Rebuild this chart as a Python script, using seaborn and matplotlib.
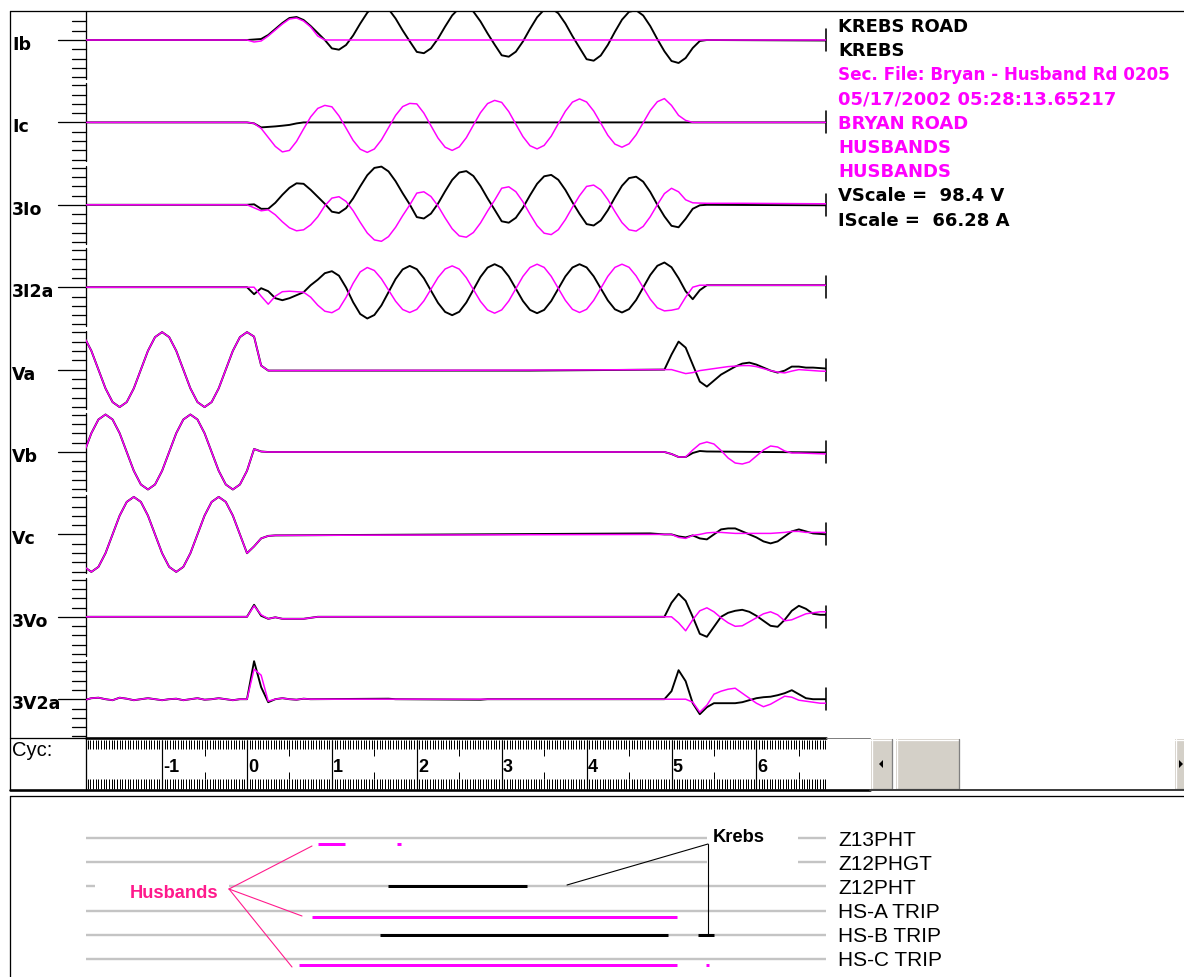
import matplotlib
matplotlib.use("Agg")
import numpy as np
import pandas as pd
import matplotlib.pyplot as plt
import seaborn as sns
from matplotlib.patches import Rectangle, Polygon

sns.set_theme(style="white")
plt.rcParams["font.family"] = ["DejaVu Sans"]

W, H = 1184, 977
SPC = 12  # samples per power-system cycle

# ---------------------------------------------------------------------------
# Analog records.  Each record is a list of (first sample index, [samples]);
# sample index / SPC gives the time in cycles relative to the fault.
# Samples are deflections in display units (positive = up).
# ---------------------------------------------------------------------------
CHANNELS = ["Ib", "Ic", "3Io", "3I2a", "Va", "Vb", "Vc", "3Vo", "3V2a"]

IB_KREBS = [(-23, [0]),
            (0, [0, 0.5, 1, 5, 11, 17, 22, 23, 20, 14, 7, 0,
                 -8.4, -9.7, -5.0, 4.5, 16.4, 27.3, 34.4, 35.7, 31.0, 21.5, 9.6, -1.3,
                 -11.9, -13.2, -8.4, 1.4, 13.4, 24.6, 31.9, 33.2, 28.4, 18.6, 6.6, -4.6,
                 -15.3, -16.7, -11.7, -1.5, 11.1, 22.7, 30.3, 31.7, 26.7, 16.5, 3.9, -7.7,
                 -19.2, -20.7, -15.5, -4.9, 8.2, 20.3, 28.2, 29.7, 24.5, 13.9, 0.8, -11.3,
                 -21, -23, -18, -8, -1, 0]),
            (82, [-0.5])]
IB_HUSB = [(-23, [0]),
           (0, [0, -2, -1, 4, 10, 16, 21, 22, 19, 13, 4, 0]),
           (82, [0])]

IC_KREBS = [(-23, [0]), (0, [0, -1, -5, -4.5, -4, -3.3, -2.5, -1, 0]), (82, [0])]
IC_HUSB = [(-23, [0]),
           (0, [0, -1, -6, -15, -24, -29.5, -28, -19, -6.5, 5.5, 14, 17,
                15.6, 6.5, -5.7, -18.0, -26.8, -30.0, -26.6, -17.5, -5.3, 7.0, 15.8, 19.0,
                18.5, 9.3, -3.3, -15.7, -24.8, -28.0, -24.5, -15.3, -2.7, 9.7, 18.8, 22.0,
                20.0, 10.8, -1.8, -14.2, -23.3, -26.5, -23.0, -13.8, -1.2, 11.2, 20.3, 23.5,
                20.4, 11.4, -0.7, -12.9, -21.7, -24.8, -21.4, -12.4, -0.3, 11.9, 20.7, 23.8,
                17, 7, 2, 0]),
           (82, [0])]

I0_KREBS = [(-23, [0]),
            (0, [0, 0.5, -4, -4, 2, 10, 17, 21.5, 21, 15, 8, 1,
                 -6.9, -8.2, -3.4, 6.4, 18.4, 29.6, 36.9, 38.2, 33.4, 23.6, 11.6, 0.4,
                 -12.3, -13.7, -8.8, 1.2, 13.5, 24.9, 32.3, 33.7, 28.8, 18.8, 6.5, -4.9,
                 -16.5, -17.9, -13.0, -2.9, 9.5, 21.0, 28.5, 29.9, 25.0, 14.9, 2.5, -9.0,
                 -19.3, -20.7, -15.7, -5.4, 7.3, 19.0, 26.7, 28.1, 23.1, 12.8, 0.1, -11.6,
                 -21, -22.5, -14, -4, -0.5, 0]),
            (82, [-0.5])]
I0_HUSB = [(-23, [0]),
           (0, [0, -3, -6, -5, -10, -17, -23, -26, -25, -20, -12, -1,
                6.7, 8.1, 3.4, -5.9, -17.5, -28.2, -35.1, -36.5, -31.8, -22.5, -10.9, -0.2,
                11.7, 13.0, 8.3, -1.2, -13.1, -24.0, -31.1, -32.4, -27.7, -18.2, -6.3, 4.6,
                16.6, 18.0, 13.1, 3.0, -9.4, -20.9, -28.4, -29.8, -24.9, -14.8, -2.4, 9.1,
                18.4, 19.7, 15.0, 5.3, -6.7, -17.8, -25.0, -26.3, -21.6, -11.9, 0.1, 11.2,
                16.5, 13, 5, 2, 1.7, 1.5]),
           (70, [1.5]), (82, [1.0])]

I2_KREBS = [(-23, [0]),
            (0, [0, -7, -1, -4, -11, -13, -11, -8, -5, 2, 7.5, 14,
                 16, 11.5, -0.3, -15, -26.8, -31.3, -27.8, -18.2, -5, 8.2, 17.8, 21.3,
                 18, 9, -3.4, -15.7, -24.7, -28, -24.6, -15.3, -2.5, 10.3, 19.6, 23,
                 19.7, 10.8, -1.5, -13.8, -22.7, -26, -22.7, -13.8, -1.5, 10.8, 19.7, 23,
                 19.8, 10.9, -1.2, -13.2, -22.1, -25.3, -21.9, -12.8, -0.3, 12.2, 21.4, 24.7,
                 20, 9, -4, -12, -3, 2]),
            (82, [2])]
I2_HUSB = [(-23, [0]),
           (0, [0, 0, -9, -17, -9, -4.5, -4, -4.5, -5, -10, -18, -24,
                -25.5, -21.6, -10.2, 3.9, 15.3, 19.7, 16.7, 8.4, -2.8, -14, -22.3, -25.3,
                -22.2, -13.7, -2, 9.7, 18.2, 21.3, 18.1, 9.5, -2.4, -14.2, -22.8, -26,
                -22.7, -13.8, -1.5, 10.8, 19.7, 23, 19.8, 10.9, -1.2, -13.2, -22.1, -25.3,
                -22.1, -13.2, -1.2, 10.9, 19.8, 23, 19.9, 11.3, -0.4, -12, -20.6, -23.7,
                -23, -21.5, -10, 0, 2]),
           (82, [2])]

# pre-fault phase voltages (shared by both terminals), samples -23 .. 3
VA_PRE = [32.5, 18.8, 0, -18.8, -32.5, -37.5, -32.5, -18.8, 0, 18.8, 32.5, 37.5,
          32.5, 18.8, 0, -18.8, -32.5, -37.5, -32.5, -18.8, 0, 18.8, 32.5, 37.5,
          33, 4, -1]
VB_PRE = [0, 18.8, 32.5, 37.5, 32.5, 18.8, 0, -18.8, -32.5, -37.5, -32.5, -18.8,
          0, 18.8, 32.5, 37.5, 32.5, 18.8, 0, -18.8, -32.5, -37.5, -32.5, -18.8,
          3, 0.5, 0]
VC_PRE = [-32.5, -37.5, -32.5, -18.8, 0, 18.8, 32.5, 37.5, 32.5, 18.8, 0, -18.8,
          -32.5, -37.5, -32.5, -18.8, 0, 18.8, 32.5, 37.5, 32.5, 18.8, 0, -18.8,
          -12, -4, -1.5, -1]

VA_KREBS = [(-23, VA_PRE), (40, [-1]),
            (59, [0, 15, 28, 22, 5, -12, -17, -11, -5, -1, 3, 6, 7, 5, 2, -1, -3, -1,
                  3, 3, 2, 2, 1.5]),
            (82, [1])]
VA_HUSB = [(-23, VA_PRE), (40, [-0.5]),
           (59, [0, 0, -2, -4, -3, -1, 0, 1, 2, 3, 3.5, 4, 4, 3, 1, -1, -2.5, -3.3,
                 -1.5, 0, -0.5, -1, -1.5]),
           (82, [-1.7])]

VB_KREBS = [(-23, VB_PRE), (59, [0, -2, -5, -5, -1, 1, 0.5]), (82, [-0.5])]
VB_HUSB = [(-23, VB_PRE),
           (59, [0, -2, -5, -5, 2, 8, 10, 8, 1.5, -6, -11, -12, -10, -4, 2, 6, 5, 1,
                 -1, -1]),
           (82, [-2])]

VC_KREBS = [(-23, VC_PRE),
            (57, [1, 0.5, 0, 0, -2, -3, -1, -4, -5, 0, 5, 6, 6, 3, 0, -3, -7, -9, -7,
                  -2, 3, 5, 3, 1]),
            (82, [0])]
VC_HUSB = [(-23, VC_PRE),
           (60, [0, -3, -4, -1, 0, 1.5, 2, 2, 1.5, 1, 1, 1, 1, 1, 1, 1.5, 2, 3, 3, 2, 2]),
           (82, [2])]

V0_KREBS = [(-23, [0]),
            (0, [0, 12, 1, -2, -0.5, -2, -2, -2, -2, -1, 0]),
            (59, [0, 14, 23, 16, 0, -17, -20, -10, 0, 4, 6, 7, 5, 1, -4, -9, -10, -3,
                  6, 11, 8, 3, 2]),
            (82, [2])]
V0_HUSB = [(-23, [0]),
           (0, [0, 11, 2, -2, -0.5, -2, -2, -2, -2, -1, 0]),
           (60, [0, -6, -14, -3, 6, 9, 5, -1, -6, -9.5, -9, -5, -1, 3, 5, 2, -4, -3,
                 0, 3, 4, 5]),
           (82, [5])]

V2_RIPPLE = [-1, 1, 1.5, 0, -1, 1.5, 0.5, -1, 0, 1, 0, -1, 0, 0.5, -1, 0, 1, -0.5,
             0, 1, 0, -1, 0]
V2_KREBS = [(-23, V2_RIPPLE + [0, 38, 12, -3, 0, 1, 0, -0.5, 0.5, 0]),
            (20, [0.5]), (21, [0]), (33, [-0.5]), (34, [0]),
            (59, [0, 8, 29, 18, -4, -15, -8, -4, -4, -4, -4, -3, -1, 1, 2, 2.5, 4, 6,
                  9, 5, 1, 0, 0]),
            (82, [0])]
V2_HUSB = [(-23, V2_RIPPLE + [0, 30, 24, -2, 0, 1, 0, -0.5, 0.5, 0]),
           (61, [0, 0, -3, -13, -6, 5, 8, 10, 11, 6, 1, -4, -7.5, -5, -1, 3, 2, -1,
                 -2, -3, -4]),
           (82, [-4])]

KREBS_RECORDS = [IB_KREBS, IC_KREBS, I0_KREBS, I2_KREBS, VA_KREBS, VB_KREBS,
                 VC_KREBS, V0_KREBS, V2_KREBS]
HUSB_RECORDS = [IB_HUSB, IC_HUSB, I0_HUSB, I2_HUSB, VA_HUSB, VB_HUSB,
                VC_HUSB, V0_HUSB, V2_HUSB]

# ---------------------------------------------------------------------------
# Digital (relay element) records: on-intervals in cycles
# ---------------------------------------------------------------------------
DIGITAL_ROWS = ["Z13PHT", "Z12PHGT", "Z12PHT", "HS-A TRIP", "HS-B TRIP", "HS-C TRIP"]
HUSB_Z13PHT = [(0.836, 1.154), (1.767, 1.814)]
HUSB_HSA = [(0.766, 5.065)]
HUSB_HSC = [(0.612, 5.065), (5.406, 5.442)]
KREBS_Z12PHT = [(1.661, 3.298)]
KREBS_HSB = [(1.567, 4.959), (5.312, 5.501)]

HEADER_LINES = ["KREBS ROAD", "KREBS", "Sec. File: Bryan - Husband Rd 0205",
                "05/17/2002 05:28:13.65217", "BRYAN ROAD", "HUSBANDS", "HUSBANDS",
                "VScale =  98.4 V", "IScale =  66.28 A"]
HEADER_SIDE = ["K", "K", "H", "H", "H", "H", "H", "K", "K"]
CYCLE_LABELS = [-1, 0, 1, 2, 3, 4, 5, 6]

# ---------------------------------------------------------------------------
# Layout
# ---------------------------------------------------------------------------
BLACK = "#000000"
MAGENTA = "#FF00FF"
PINK = "#FF1A8C"
ROWGRAY = "#C4C4C4"
BTN = "#D4D0C8"

ZERO_PX, PX_PER_CYC = 247.0, 84.9
X0, X1 = 86, 826
T_LEFT = (X0 - ZERO_PX) / PX_PER_CYC
T_RIGHT = (X1 - ZERO_PX) / PX_PER_CYC
BASELINES = [40 + 82.4 * i for i in range(len(CHANNELS))]
ROW_Y = [838 + 24.2 * i for i in range(len(DIGITAL_ROWS))]
PX = 0.72  # points per pixel at 100 dpi

fig = plt.figure(figsize=(W / 100, H / 100), dpi=100)
fig.patch.set_facecolor("white")


def px_axes(x0, y0, x1, y1, zorder=1):
    a = fig.add_axes([x0 / W, 1 - y1 / H, (x1 - x0) / W, (y1 - y0) / H], zorder=zorder)
    a.set_facecolor("none")
    a.axis("off")
    return a


ui = px_axes(0, 0, W, H, zorder=0)
ui.set_xlim(0, W)
ui.set_ylim(H, 0)


def expand(record):
    t, v = [], []
    for k0, vals in record:
        for i, val in enumerate(vals):
            t.append((k0 + i) / SPC)
            v.append(val)
    return np.array(t), np.array(v)


# --- waveform panel --------------------------------------------------------
ax = px_axes(X0, 11, X1, 738, zorder=2)

for base, rk, rh in zip(BASELINES, KREBS_RECORDS, HUSB_RECORDS):
    t, v = expand(rk)
    sns.lineplot(x=t, y=base - v, ax=ax, color=BLACK, linewidth=1.9 * PX,
                 estimator=None, sort=False, errorbar=None,
                 solid_joinstyle="round")
    t, v = expand(rh)
    sns.lineplot(x=t, y=base - v, ax=ax, color=MAGENTA, linewidth=1.5 * PX,
                 estimator=None, sort=False, errorbar=None,
                 solid_joinstyle="round")
ax.set_xlim(T_LEFT, T_RIGHT)
ax.set_ylim(738, 11)
ax.axis("off")

# channel scales, names and end markers
for name, base in zip(CHANNELS, BASELINES):
    ui.plot([X0, X0], [max(11, base - 39), base + 39], color=BLACK, lw=1.3 * PX)
    for j in range(1, 5):
        for s in (-1, 1):
            y = base + s * 9.3 * j
            if y > 13:
                ui.plot([72, X0], [y, y], color=BLACK, lw=1.3 * PX)
    ui.plot([58, X0], [base, base], color=BLACK, lw=1.3 * PX)
    ui.text(12, base + 10, name, fontsize=12.5, fontweight="bold", color=BLACK,
            ha="left", va="baseline")
    ui.plot([X1, X1], [base - 11, base + 11], color=BLACK, lw=1.6 * PX, zorder=5)

for i, (line, side) in enumerate(zip(HEADER_LINES, HEADER_SIDE)):
    size = 12.1 if len(line) > 30 else 13
    ui.text(838, 32 + 24.2 * i, line, fontsize=size, fontweight="bold",
            color=BLACK if side == "K" else MAGENTA, ha="left", va="baseline")

# outer frame
ui.plot([10, W], [11, 11], color=BLACK, lw=1.3 * PX)
ui.plot([10, 10], [11, 790], color=BLACK, lw=1.3 * PX)

# --- cycle ruler ------------------------------------------------------------
ui.plot([10, X0], [738, 738], color=BLACK, lw=1.3 * PX)
ui.plot([X0, X1], [738, 738], color=BLACK, lw=2.6 * PX)
ui.plot([X1, 870], [738, 738], color="#808080", lw=1.0 * PX)
ui.plot([10, 870], [790, 790], color=BLACK, lw=2.6 * PX)
ui.plot([X0, X0], [738, 790], color=BLACK, lw=1.3 * PX)
ui.text(12, 756, "Cyc:", fontsize=14.5, family="Liberation Sans", color=BLACK,
        ha="left", va="baseline")

axr = px_axes(X0, 738, X1, 790, zorder=2)
axr.set_xlim(T_LEFT, T_RIGHT)
axr.set_ylim(790, 738)
fine = np.arange(np.ceil(T_LEFT * 32) / 32, T_RIGHT, 1 / 32)
axr.vlines(fine, 740, 749, color=BLACK, lw=1.0 * PX)
axr.vlines(fine, 779, 789, color=BLACK, lw=1.0 * PX)
halves = np.arange(np.ceil(T_LEFT) + 0.5, T_RIGHT, 1.0)
axr.vlines(halves, 749, 756, color=BLACK, lw=1.0 * PX)
axr.vlines(halves, 772, 779, color=BLACK, lw=1.0 * PX)
axr.vlines(CYCLE_LABELS, 740, 789, color=BLACK, lw=1.2 * PX)
for n in CYCLE_LABELS:
    axr.annotate(str(n), (n, 772), xytext=(0.8, 0), textcoords="offset points",
                 fontsize=13, fontweight="bold", family="Liberation Sans",
                 ha="left", va="baseline", color=BLACK)

# scroll bar
ui.add_patch(Rectangle((870, 739), W - 870, 51, facecolor="white", edgecolor="none"))
for x0, x1 in [(871, 892), (896, 959), (1175, 1196)]:
    ui.add_patch(Rectangle((x0, 739), x1 - x0, 50, facecolor=BTN, edgecolor="none"))
    ui.plot([x0, x1], [739.5, 739.5], color="white", lw=1.3 * PX)
    ui.plot([x0 + 0.5, x0 + 0.5], [739, 789], color="white", lw=1.3 * PX)
    ui.plot([x0, x1], [788.5, 788.5], color="#808080", lw=1.3 * PX)
    ui.plot([x1 - 0.5, x1 - 0.5], [739, 789], color="#808080", lw=1.3 * PX)
ui.add_patch(Polygon([[879, 764], [883, 760], [883, 768]], closed=True,
                     facecolor=BLACK, edgecolor="none"))
ui.add_patch(Polygon([[1183, 764], [1179, 760], [1179, 768]], closed=True,
                     facecolor=BLACK, edgecolor="none"))
ui.plot([870, W], [790, 790], color="#404040", lw=2.0 * PX)

# --- digital panel ------------------------------------------------------------
ui.plot([10, W], [796, 796], color=BLACK, lw=1.3 * PX)
ui.plot([10, 10], [796, H], color=BLACK, lw=1.3 * PX)

axd = px_axes(X0, 795, X1, H, zorder=2)
axd.set_xlim(T_LEFT, T_RIGHT)
axd.set_ylim(H, 795)
axd.hlines(ROW_Y, T_LEFT, T_RIGHT, color=ROWGRAY, lw=2.4 * PX, zorder=1)

for row, spans in [(0, HUSB_Z13PHT), (3, HUSB_HSA), (5, HUSB_HSC)]:
    for a, b in spans:
        axd.hlines(ROW_Y[row] + 6, a, b, color=MAGENTA, lw=3.0 * PX, zorder=3)
for row, spans in [(2, KREBS_Z12PHT), (4, KREBS_HSB)]:
    for a, b in spans:
        axd.hlines(ROW_Y[row], a, b, color=BLACK, lw=3.0 * PX, zorder=3)

for name, y in zip(DIGITAL_ROWS, ROW_Y):
    ui.text(838, y + 7.5, name, fontsize=15, family="Liberation Sans",
            color=BLACK, ha="left", va="baseline")

# element group call-outs
top = px_axes(0, 0, W, H, zorder=4)
top.set_xlim(0, W)
top.set_ylim(H, 0)
top.add_patch(Rectangle((95, 876), 134, 24, facecolor="white", edgecolor="none"))
top.add_patch(Rectangle((707, 826), 91, 46, facecolor="white", edgecolor="none"))
top.text(130, 898, "Husbands", fontsize=13.2, fontweight="bold",
         family="Liberation Sans", color=PINK, ha="left", va="baseline")
for xe, ye in [(312, 846), (302, 916), (292, 967)]:
    top.plot([229, xe], [889, ye], color=PINK, lw=1.1 * PX)
top.text(713, 842, "Krebs", fontsize=13.2, fontweight="bold",
         family="Liberation Sans", color=BLACK, ha="left", va="baseline")
top.plot([708, 567], [844, 885], color=BLACK, lw=1.1 * PX)
top.plot([708, 708], [844, 934], color=BLACK, lw=1.1 * PX)

fig.savefig("out.png", dpi=100, facecolor="white")
